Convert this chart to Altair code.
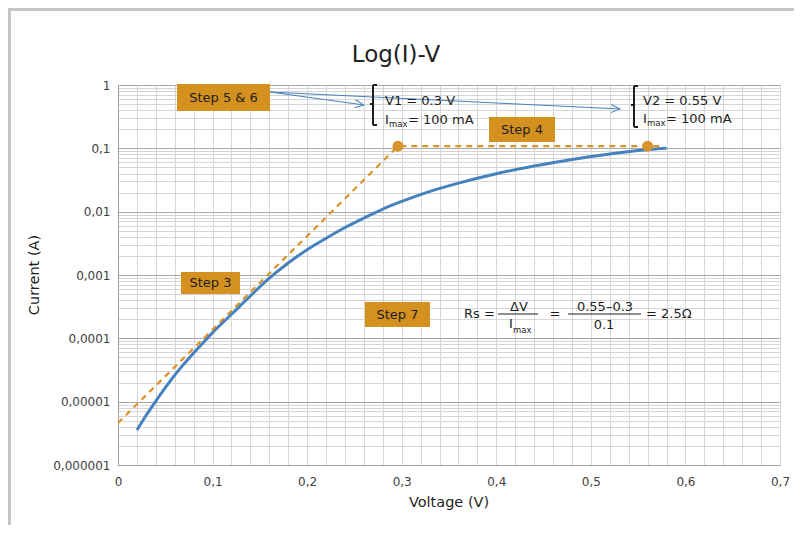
import altair as alt
import pandas as pd

FONT = "DejaVu Sans"

# ---- data ----
voltage = [0.02, 0.03, 0.04, 0.05, 0.06, 0.07, 0.08, 0.09, 0.10, 0.12, 0.14, 0.16,
           0.18, 0.20, 0.22, 0.24, 0.26, 0.28, 0.30, 0.33, 0.36, 0.40, 0.44, 0.48,
           0.52, 0.55, 0.58]
current = [3.55e-6, 6.17e-6, 1.02e-5, 1.66e-5, 2.63e-5, 3.98e-5, 5.89e-5, 8.51e-5,
           1.23e-4, 2.40e-4, 4.68e-4, 8.91e-4, 1.55e-3, 2.51e-3, 3.80e-3, 5.62e-3,
           7.94e-3, 1.10e-2, 1.45e-2, 2.09e-2, 2.82e-2, 3.98e-2, 5.25e-2, 6.68e-2,
           8.13e-2, 9.23e-2, 0.100]

fit_v = [0.0, 0.296, 0.575]
fit_i = [4.6e-6, 0.108, 0.108]

marker_v = [0.296, 0.56]
marker_i = [0.108, 0.108]

x_major = [0.0, 0.1, 0.2, 0.3, 0.4, 0.5, 0.6, 0.7]
x_labels = ["0", "0,1", "0,2", "0,3", "0,4", "0,5", "0,6", "0,7"]
y_major = [1e-06, 1e-05, 0.0001, 0.001, 0.01, 0.1, 1.0]
y_labels = ["0,000001", "0,00001", "0,0001", "0,001", "0,01", "0,1", "1"]

# ---- styling ----
BLUE = "#4682BE"
ORANGE = "#D8942A"
BOX = "#D4911F"
TXT = "#1E1E1E"
LAB = "#404040"
MINOR = "#D6D6D6"
MAJOR = "#A8A8A8"

x_grid = [round(i * 0.02, 2) for i in range(36)]
y_grid = [float(f"{m}e{k}") for k in range(-6, 0) for m in range(1, 10)] + [1.0]

x_label_expr = "".join(f"datum.value == {v!r} ? '{l}' : " for v, l in zip(x_major, x_labels)) + "''"
y_label_expr = "".join(f"datum.value == {v!r} ? '{l}' : " for v, l in zip(y_major, y_labels)) + "''"
y_major_test = " || ".join(f"datum.value == {v!r}" for v in y_major)

xs = alt.Scale(domain=[0, 0.7], nice=False, zero=False)
ys = alt.Scale(type="log", domain=[1e-6, 1], nice=False)

x_axis = alt.Axis(values=x_grid, tickCount=500, labelExpr=x_label_expr, ticks=False, grid=True,
                  gridColor=MINOR, domainColor="#A0A0A0", labelFont=FONT, labelFontSize=12,
                  labelColor=LAB, labelPadding=11, title=None, labelFlush=False,
                  labelOverlap=False, labelBound=False)
y_axis = alt.Axis(values=y_grid, tickCount=500, labelExpr=y_label_expr, ticks=False, grid=True,
                  gridColor={"condition": {"test": y_major_test, "value": MAJOR}, "value": MINOR},
                  domainColor="#A0A0A0", labelFont=FONT, labelFontSize=12, labelColor=LAB,
                  labelPadding=8, title=None, labelFlush=False, labelOverlap=False,
                  labelBound=False)

curve_df = pd.DataFrame({"V": voltage, "I": current})
fit_df = pd.DataFrame({"V": fit_v, "I": fit_i})
mark_df = pd.DataFrame({"V": marker_v, "I": marker_i})

curve = alt.Chart(curve_df).mark_line(color=BLUE, strokeWidth=3, interpolate="monotone").encode(
    x=alt.X("V:Q", scale=xs, axis=x_axis),
    y=alt.Y("I:Q", scale=ys, axis=y_axis),
)
fit = alt.Chart(fit_df).mark_line(color=ORANGE, strokeWidth=2.2, strokeDash=[6, 5]).encode(
    x=alt.X("V:Q", scale=xs), y=alt.Y("I:Q", scale=ys))
pts = alt.Chart(mark_df).mark_point(color=ORANGE, filled=True, opacity=1, size=120).encode(
    x=alt.X("V:Q", scale=xs), y=alt.Y("I:Q", scale=ys))

one = pd.DataFrame({"k": [0]})


def txt(s, x, y, size=13, align="left", baseline="alphabetic", color=TXT, angle=0):
    return alt.Chart(one).mark_text(text=s, align=align, baseline=baseline, fontSize=size,
                                    font=FONT, color=color, angle=angle).encode(
        x=alt.value(x), y=alt.value(y))


def rect(x1, x2, y1, y2, color=BOX):
    return alt.Chart(one).mark_rect(color=color).encode(
        x=alt.value(x1), x2=alt.value(x2), y=alt.value(y1), y2=alt.value(y2))


def rule(x1, x2, y1, y2, color=TXT, w=1.0):
    return alt.Chart(one).mark_rule(color=color, strokeWidth=w).encode(
        x=alt.value(x1), x2=alt.value(x2), y=alt.value(y1), y2=alt.value(y2))


def head(x, y, angle):
    return alt.Chart(one).mark_point(shape="M-1,-0.45L0,0L-1,0.45", filled=False, stroke=BLUE,
                                     strokeWidth=1, size=324, angle=angle, opacity=1).encode(
        x=alt.value(x), y=alt.value(y))


def bracket(x, y1, y2, ym):
    return [rule(x, x, y1, y2, w=2), rule(x, x + 4, y1, y1, w=2), rule(x, x + 4, y2, y2, w=2),
            rule(x - 3, x, ym, ym, w=2)]


layers = [curve, fit, pts]

# frame
layers += [rule(-108.5, -108.5, -76, 440, color="#C6C6C6", w=3),
           rule(-110, 680, -75.5, -75.5, color="#C6C6C6", w=3)]

# titles
layers += [txt("Log(I)-V", 278, -23, size=23, align="center", color="#222222"),
           txt("Current (A)", -83, 190, size=14.5, align="center", baseline="middle", angle=270),
           txt("Voltage (V)", 331, 418, size=14.5, align="center", baseline="middle")]

# step boxes
layers += [rect(59, 152, -1, 26), txt("Step 5 & 6", 105.5, 12.5, align="center", baseline="middle"),
           rect(371, 437, 32, 57), txt("Step 4", 404, 44.5, align="center", baseline="middle"),
           rect(63, 122, 187, 209), txt("Step 3", 92.5, 198, align="center", baseline="middle"),
           rect(247, 312, 217, 242), txt("Step 7", 279.5, 229.5, align="center", baseline="middle")]

# arrows
layers += [rule(152, 246, 7, 20, color=BLUE), head(246, 20, 7.9),
           rule(152, 502, 7, 24, color=BLUE), head(502, 24, 2.8)]

# brackets and values
layers += bracket(255, 0, 40, 19)
layers += bracket(516, 1, 42, 20)
layers += [txt("V1 = 0.3 V", 267, 20), txt("I", 267, 39), txt("max", 271, 42, size=8.5),
           txt("= 100 mA", 290, 39),
           txt("V2 = 0.55 V", 525, 20), txt("I", 525, 38), txt("max", 529, 41, size=8.5),
           txt("= 100 mA", 548, 38)]

# formula
layers += [txt("Rs =", 346, 233),
           txt("ΔV", 401, 226, align="center"), rule(380, 420, 229, 229, w=1),
           txt("I", 391, 243), txt("max", 395, 248, size=8.5),
           txt("=", 437, 233, align="center"),
           txt("0.55–0.3", 487, 226, align="center"), rule(450, 523, 229, 229, w=1),
           txt("0.1", 486, 244, align="center"),
           txt("= 2.5Ω", 528, 233)]

chart = alt.layer(*layers).properties(
    width=662, height=380,
    autosize=alt.AutoSizeParams(type="none"),
    padding={"left": 110, "top": 77, "right": 14, "bottom": 60},
    background="white",
).configure_view(strokeWidth=0)

chart.save("out.html", embed_options={"renderer": "svg", "actions": False})
